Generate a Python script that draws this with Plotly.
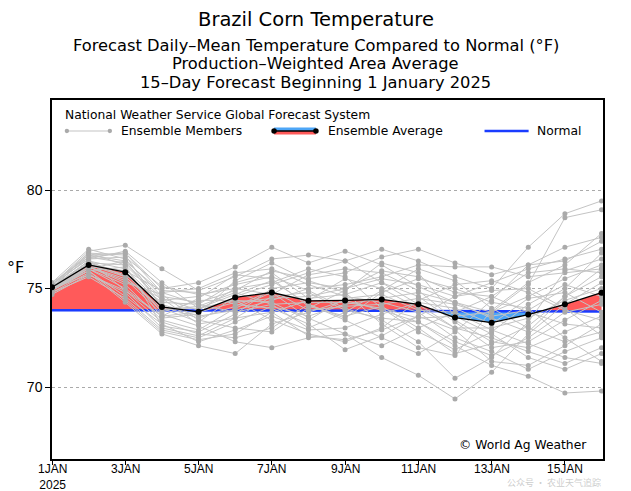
import plotly.graph_objects as go

days = list(range(1, 17))
tick_days = [1, 3, 5, 7, 9, 11, 13, 15]
tick_labels = ["1JAN<br>2025", "3JAN", "5JAN", "7JAN", "9JAN", "11JAN", "13JAN", "15JAN"]

ens_avg = [75.07, 76.2, 75.83, 74.07, 73.82, 74.55, 74.8, 74.38, 74.4, 74.45, 74.2, 73.53, 73.27, 73.68, 74.2, 74.79]
normal = [73.9, 73.9, 73.9, 73.89, 73.89, 73.88, 73.88, 73.88, 73.87, 73.87, 73.86, 73.86, 73.85, 73.85, 73.85, 73.84]

members = [
    [75.2, 76.9, 77.2, 76.0, 74.9, 75.6, 76.5, 76.7, 76.4, 77.0, 76.4, 75.6, 75.0, 77.1, 78.8, 79.45],
    [75.1, 76.6, 76.8, 75.0, 75.3, 76.1, 77.1, 76.3, 76.9, 76.2, 75.1, 74.3, 73.8, 75.2, 78.6, 79.0],
    [75.3, 77.0, 76.5, 74.6, 74.3, 74.9, 75.9, 75.5, 75.8, 76.6, 77.0, 76.3, 75.7, 76.2, 76.4, 77.4],
    [75.0, 76.4, 76.0, 74.2, 73.6, 73.9, 74.4, 75.0, 75.2, 75.6, 76.2, 76.1, 76.1, 75.6, 75.8, 76.0],
    [74.9, 76.1, 75.5, 73.7, 73.1, 72.3, 72.0, 72.5, 72.7, 71.5, 70.6, 69.4, 70.75, 72.7, 74.2, 75.3],
    [74.8, 75.8, 74.3, 72.7, 72.1, 71.7, 73.2, 73.8, 74.4, 73.9, 73.3, 72.1, 71.1, 70.55, 69.7, 69.8],
    [75.1, 76.3, 76.2, 74.4, 74.6, 75.2, 75.6, 74.9, 74.0, 73.4, 72.3, 70.45, 71.5, 73.3, 75.9, 76.5],
    [75.0, 76.0, 75.2, 73.4, 72.9, 74.0, 74.8, 73.5, 72.7, 72.1, 73.0, 73.8, 74.6, 75.8, 76.0, 75.8],
    [75.2, 76.5, 76.9, 75.3, 74.0, 74.7, 75.4, 74.2, 73.5, 74.8, 75.5, 75.0, 74.3, 74.0, 72.5, 71.3],
    [74.7, 75.7, 74.8, 73.0, 72.6, 73.5, 73.8, 74.4, 75.5, 75.0, 74.0, 73.0, 72.5, 71.8, 71.2, 72.0],
    [75.1, 76.2, 75.9, 74.9, 74.8, 74.2, 74.0, 73.2, 71.9, 72.6, 73.6, 74.6, 75.3, 76.0, 76.5, 77.0],
    [75.0, 76.8, 76.7, 74.0, 73.3, 74.6, 75.2, 75.8, 76.4, 75.3, 74.6, 73.3, 72.0, 72.3, 73.4, 74.4],
    [74.9, 75.9, 74.6, 73.2, 72.3, 72.9, 73.6, 72.9, 73.0, 73.7, 74.3, 74.0, 73.2, 74.5, 74.8, 73.8],
    [75.2, 76.7, 76.4, 74.8, 75.0, 75.8, 76.0, 75.2, 74.6, 74.3, 73.8, 72.5, 71.8, 70.9, 71.8, 72.5],
    [75.1, 76.0, 75.0, 73.6, 73.8, 74.3, 74.5, 74.6, 75.0, 75.9, 75.6, 74.8, 74.6, 73.8, 73.2, 73.0],
    [74.8, 75.6, 74.5, 72.9, 72.5, 73.3, 74.1, 73.6, 74.2, 74.5, 74.8, 74.3, 73.5, 72.8, 74.6, 76.0],
    [75.3, 76.6, 76.3, 74.5, 73.9, 75.0, 75.3, 76.0, 75.6, 74.0, 72.8, 71.9, 72.8, 74.2, 75.2, 74.6],
    [75.0, 76.4, 75.6, 73.9, 74.1, 74.8, 74.2, 73.0, 73.8, 74.9, 76.0, 75.4, 74.0, 73.0, 72.3, 72.8],
    [75.1, 76.1, 75.3, 74.7, 73.4, 73.0, 72.8, 74.0, 74.9, 76.3, 75.8, 73.6, 72.7, 71.5, 70.9, 71.7],
    [75.0, 75.9, 76.1, 73.5, 73.7, 75.4, 76.3, 75.4, 74.8, 73.2, 72.0, 71.6, 73.9, 75.3, 76.2, 77.8],
    [74.9, 76.3, 75.8, 73.8, 74.4, 74.4, 73.4, 72.7, 72.3, 73.0, 74.4, 75.2, 75.4, 74.8, 73.9, 73.4],
    [75.2, 76.5, 76.6, 75.1, 74.7, 75.0, 74.7, 75.7, 76.0, 75.8, 74.9, 73.4, 72.3, 72.0, 72.8, 73.6],
    [75.0, 75.7, 74.9, 73.3, 72.7, 72.5, 73.0, 74.2, 73.4, 72.5, 71.7, 72.8, 74.4, 76.2, 77.1, 77.6],
    [75.1, 76.2, 75.7, 74.3, 74.2, 75.3, 75.8, 74.5, 74.7, 75.3, 74.2, 73.0, 73.0, 73.5, 74.4, 75.0],
    [74.9, 76.0, 76.4, 74.1, 73.5, 74.1, 74.9, 73.9, 74.1, 74.2, 74.5, 74.2, 73.6, 73.9, 75.0, 76.8],
    [75.2, 76.8, 76.2, 73.1, 72.8, 73.7, 75.0, 75.3, 75.0, 75.5, 75.2, 74.6, 74.9, 75.0, 74.0, 72.6],
    [75.0, 76.1, 75.4, 74.5, 73.2, 73.5, 74.6, 74.8, 73.9, 73.5, 73.3, 72.3, 71.6, 72.5, 73.8, 74.2],
    [75.1, 76.4, 74.9, 73.6, 74.5, 75.7, 75.5, 74.1, 73.6, 74.1, 73.0, 71.7, 72.2, 73.1, 74.6, 75.6],
    [75.0, 76.2, 75.6, 74.0, 74.0, 74.4, 74.3, 73.4, 74.5, 74.7, 73.9, 73.8, 72.9, 72.2, 71.5, 71.2],
    [74.9, 75.9, 74.4, 72.8, 72.4, 72.7, 73.8, 72.6, 72.4, 72.9, 73.6, 72.9, 71.3, 71.1, 72.1, 73.2],
    [75.2, 76.7, 76.8, 74.8, 74.2, 73.8, 74.2, 74.3, 74.3, 74.0, 73.5, 73.6, 73.8, 74.6, 75.5, 76.2],
]

RED = "#FF5A5A"
BLUE_FILL = "#4DA6F7"
NORMAL_BLUE = "#1A3CFF"
MEMBER_LINE = "#C4C4C4"
MEMBER_MARK = "#AAAAAA"
FONT = "DejaVu Sans"

# Build fill series with crossing points inserted
xs, a_i, n_i = [], [], []
for i in range(len(days)):
    xs.append(days[i]); a_i.append(ens_avg[i]); n_i.append(normal[i])
    if i < len(days) - 1:
        d0 = ens_avg[i] - normal[i]
        d1 = ens_avg[i + 1] - normal[i + 1]
        if d0 * d1 < 0:
            t = d0 / (d0 - d1)
            xc = days[i] + t * (days[i + 1] - days[i])
            nc = normal[i] + t * (normal[i + 1] - normal[i])
            xs.append(xc); a_i.append(nc); n_i.append(nc)
upper = [max(a, n) for a, n in zip(a_i, n_i)]
lower = [min(a, n) for a, n in zip(a_i, n_i)]

fig = go.Figure()
fig.add_trace(go.Scatter(x=xs, y=n_i, mode="lines", line=dict(width=0), hoverinfo="skip", showlegend=False))
fig.add_trace(go.Scatter(x=xs, y=upper, mode="lines", line=dict(width=0), fill="tonexty",
                         fillcolor=RED, hoverinfo="skip", showlegend=False))
fig.add_trace(go.Scatter(x=xs, y=n_i, mode="lines", line=dict(width=0), hoverinfo="skip", showlegend=False))
fig.add_trace(go.Scatter(x=xs, y=lower, mode="lines", line=dict(width=0), fill="tonexty",
                         fillcolor=BLUE_FILL, hoverinfo="skip", showlegend=False))

fig.add_trace(go.Scatter(x=days, y=normal, mode="lines", line=dict(color=NORMAL_BLUE, width=2.5),
                         showlegend=False))

for m in members:
    fig.add_trace(go.Scatter(x=days, y=m, mode="lines+markers",
                             line=dict(color=MEMBER_LINE, width=1),
                             marker=dict(color=MEMBER_MARK, size=5), showlegend=False))

fig.add_trace(go.Scatter(x=days, y=ens_avg, mode="lines+markers",
                         line=dict(color="black", width=1.3),
                         marker=dict(color="black", size=6), showlegend=False))

# Legend drawn manually inside the plot
shapes = []
ly = (459 - 131) / 359
shapes.append(dict(type="line", xref="paper", yref="paper", x0=0.027, x1=0.105, y0=ly, y1=ly,
                   line=dict(color=MEMBER_LINE, width=1.2)))
for xx in (0.027, 0.105):
    shapes.append(dict(type="circle", xref="paper", yref="paper", x0=xx - 0.004, x1=xx + 0.004,
                       y0=ly - 0.006, y1=ly + 0.006, fillcolor=MEMBER_MARK, line=dict(width=0)))
shapes.append(dict(type="rect", xref="paper", yref="paper", x0=0.403, x1=0.479, y0=ly, y1=ly + 0.010,
                   fillcolor=BLUE_FILL, line=dict(width=0)))
shapes.append(dict(type="rect", xref="paper", yref="paper", x0=0.403, x1=0.479, y0=ly - 0.010, y1=ly,
                   fillcolor=RED, line=dict(width=0)))
shapes.append(dict(type="line", xref="paper", yref="paper", x0=0.403, x1=0.479, y0=ly, y1=ly,
                   line=dict(color="black", width=1.3)))
for xx in (0.403, 0.479):
    shapes.append(dict(type="circle", xref="paper", yref="paper", x0=xx - 0.005, x1=xx + 0.005,
                       y0=ly - 0.0075, y1=ly + 0.0075, fillcolor="black", line=dict(width=0)))
shapes.append(dict(type="line", xref="paper", yref="paper", x0=0.785, x1=0.865, y0=ly, y1=ly,
                   line=dict(color=NORMAL_BLUE, width=2.5)))

ann = []
def txt(t, x, y, size, xanchor="center", yanchor="middle", color="black", family=FONT, xref="paper"):
    ann.append(dict(text=t, x=x, y=y, xref=xref, yref="paper", showarrow=False,
                    xanchor=xanchor, yanchor=yanchor, font=dict(size=size, color=color, family=family)))

cx = (315.5 - 52) / 551
txt("Brazil Corn Temperature", cx, (459 - 19) / 359, 19.5)
txt("Forecast Daily\u2013Mean Temperature Compared to Normal (\u00b0F)", cx, (459 - 45) / 359, 16.3)
txt("Production\u2013Weighted Area Average", cx, (459 - 63.5) / 359, 16.3)
txt("15\u2013Day Forecast Beginning 1 January 2025", cx, (459 - 82.5) / 359, 16.3)
txt("National Weather Service Global Forecast System", 0.02, (459 - 115) / 359, 12.3, xanchor="left")
txt("Ensemble Members", 0.122, ly, 12.3, xanchor="left")
txt("Ensemble Average", 0.497, ly, 12.3, xanchor="left")
txt("Normal", 0.877, ly, 12.3, xanchor="left")
txt("\u00b0F", -0.067, (459 - 267) / 359, 16)
txt("\u00a9 World Ag Weather", 0.974, (459 - 445) / 359, 12.3, xanchor="right")
txt("\u516c\u4f17\u53f7 \u00b7 \u519c\u4e1a\u5929\u6c14\u8ffd\u8e2a", 1.0, (459 - 491) / 359, 9,
    xanchor="right", yanchor="bottom", color="rgba(170,170,170,0.6)", family="Noto Sans CJK SC")

# x tick labels placed just under the axis, through the x data scale
for d, lab in zip(tick_days, tick_labels):
    ann.append(dict(text=lab, x=d, y=-0.003, xref="x", yref="paper", showarrow=False,
                    xanchor="center", yanchor="top",
                    font=dict(size=12, color="black", family="Liberation Sans Narrow, Liberation Sans")))

fig.update_layout(
    width=631, height=491,
    margin=dict(l=52, r=28, t=100, b=32),
    paper_bgcolor="white", plot_bgcolor="white",
    shapes=shapes, annotations=ann,
    showlegend=False,
    xaxis=dict(range=[1, 16.04], tickvals=tick_days, showticklabels=False, showgrid=False,
               zeroline=False, showline=True, linecolor="black", linewidth=1.5, mirror=True,
               ticks="outside", ticklen=4, tickcolor="black", automargin=False),
    yaxis=dict(range=[66.35, 84.57], tickvals=[70, 75, 80], showgrid=True, gridcolor="#AAAAAA",
               griddash="dot", gridwidth=1, zeroline=False, showline=True, linecolor="black",
               linewidth=1.5, mirror=True, ticks="outside", ticklen=5, tickcolor="black",
               automargin=False,
               tickfont=dict(family="Liberation Sans", size=14, color="black")),
)

fig.write_html("out.html")
